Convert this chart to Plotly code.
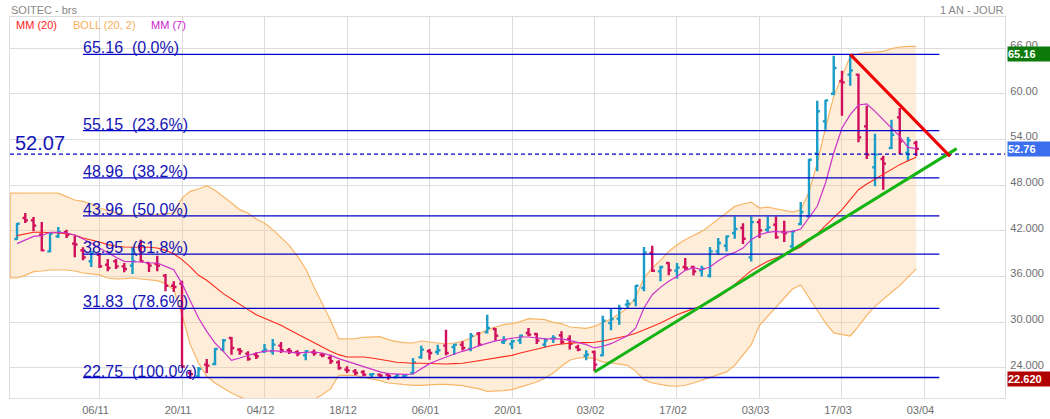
import plotly.graph_objects as go

# daily bars, index = trading day
open_ = [40.93, 43.69, 43.38, 41.5, 39.31, 41.28, 41.81, 40.32, 39.44, 38.0,
         38.87, 37.56, 38.0, 37.34, 37.43, 39.97, 37.78, 37.65, 36.12, 34.8,
         35.07, 23.34, 22.9, 24.44, 24.53, 26.41, 27.94, 26.41, 25.88, 25.75,
         26.19, 26.19, 26.93, 26.32, 26.06, 25.66, 26.06, 25.75, 25.31, 24.74,
         23.78, 23.56, 23.48, 23.13, 23.13, 23.13, 22.78, 22.91, 23.34, 25.4,
         26.19, 26.1, 26.93, 26.76, 27.06, 26.5, 28.51, 28.68, 29.12, 27.37,
         27.15, 27.63, 28.6, 28.46, 27.06, 27.85, 28.29, 27.81, 26.72, 25.62,
         26.1, 25.66, 29.91, 30.48, 32.31, 32.88, 34.5, 39.09, 36.68, 37.78,
         36.78, 37.25, 37.25, 36.81, 36.11, 39.3, 40.05, 41.71, 42.37, 38.52,
         43.15, 42.15, 42.8, 41.84, 39.96, 42.89, 43.9, 52.13, 56.37, 60.0,
         61.62, 62.5, 62.5, 55.72, 50.34, 51.43, 52.87, 56.9, 52.22, 53.53]
high = [43.03, 44.34, 43.82, 43.16, 41.81, 42.5, 42.16, 41.37, 39.84, 39.31,
        39.09, 38.3, 38.3, 37.78, 39.88, 40.84, 37.87, 38.74, 36.34, 35.37,
        35.46, 23.78, 24.13, 25.18, 26.63, 27.81, 28.07, 26.63, 26.19, 26.06,
        27.15, 27.81, 27.41, 26.63, 26.32, 26.32, 26.41, 25.97, 25.75, 25.0,
        24.22, 23.87, 23.69, 23.34, 23.26, 23.34, 23.2, 23.2, 25.31, 26.93,
        26.5, 27.06, 29.03, 27.19, 27.5, 28.6, 28.73, 31.0, 29.25, 28.16,
        27.72, 28.38, 29.25, 28.6, 27.94, 28.29, 28.81, 28.29, 27.06, 26.32,
        26.28, 30.87, 31.74, 32.31, 32.97, 34.89, 39.88, 40.06, 37.42, 37.87,
        37.78, 38.43, 37.42, 37.42, 39.87, 41.05, 41.4, 43.9, 43.0, 43.9,
        43.59, 43.9, 43.9, 43.33, 42.06, 45.78, 51.47, 59.09, 59.2, 64.99,
        63.02, 65.12, 62.63, 58.43, 54.76, 51.87, 56.59, 58.12, 54.32, 53.84]
low = [40.84, 43.03, 41.94, 39.31, 39.18, 41.06, 41.06, 38.52, 38.13, 37.26,
       37.13, 36.69, 36.99, 36.56, 36.34, 37.87, 36.6, 36.69, 34.06, 33.97,
       24.0, 22.56, 22.69, 23.34, 24.35, 26.19, 25.75, 25.75, 24.96, 25.18,
       25.97, 25.75, 25.97, 25.84, 25.53, 25.0, 25.62, 25.4, 24.53, 23.78,
       23.34, 23.04, 22.91, 22.69, 22.78, 22.47, 22.69, 22.78, 23.13, 25.22,
       25.09, 25.75, 25.66, 25.71, 26.28, 26.19, 26.85, 28.51, 27.59, 27.15,
       26.5, 27.15, 28.16, 27.15, 26.72, 27.28, 27.11, 26.41, 26.19, 25.0,
       23.56, 25.53, 28.94, 29.69, 31.74, 32.09, 34.06, 36.6, 35.37, 36.16,
       35.72, 36.81, 36.15, 36.02, 35.89, 38.87, 39.3, 40.97, 40.27, 37.99,
       41.05, 41.84, 40.97, 40.53, 39.39, 42.72, 43.77, 49.81, 55.28, 59.79,
       57.12, 61.05, 53.62, 51.43, 47.84, 47.41, 52.74, 52.09, 51.12, 51.78]
close = [42.94, 43.38, 42.68, 39.44, 41.63, 41.81, 41.46, 40.2, 38.52, 39.18,
         37.34, 37.13, 37.34, 36.99, 38.0, 38.0, 37.43, 37.43, 34.8, 34.63,
         24.2, 23.2, 23.87, 24.31, 26.5, 27.63, 26.63, 26.19, 25.18, 25.53,
         26.41, 27.06, 26.32, 26.19, 25.88, 26.19, 25.97, 25.66, 24.88, 24.0,
         23.69, 23.34, 23.13, 23.2, 23.0, 22.91, 23.04, 23.04, 24.74, 26.41,
         25.97, 26.32, 25.97, 27.06, 26.63, 28.24, 27.06, 29.25, 28.24, 27.63,
         27.5, 28.24, 28.38, 27.59, 27.63, 27.94, 27.41, 27.19, 26.41, 25.75,
         24.44, 30.2, 30.43, 31.79, 32.44, 34.8, 39.18, 36.77, 37.25, 36.82,
         37.17, 37.12, 36.68, 37.03, 39.3, 40.4, 41.27, 42.24, 40.97, 43.15,
         42.06, 42.45, 41.14, 41.71, 41.93, 44.47, 51.34, 57.69, 59.13, 63.37,
         61.49, 63.07, 54.27, 52.0, 52.0, 50.82, 54.62, 53.75, 53.88, 52.76]

mm20 = [41.37, 41.59, 41.81, 41.81, 41.81, 41.72, 41.63, 41.46, 41.06, 40.84,
        40.54, 40.19, 39.97, 39.88, 39.88, 39.88, 39.84, 39.75, 39.44, 39.0,
        38.22, 37.26, 36.16, 35.51, 34.63, 33.76, 33.06, 32.31, 31.66, 31.0,
        30.56, 30.13, 29.6, 29.03, 28.46, 27.85, 27.28, 26.76, 26.19, 25.75,
        25.45, 25.45, 25.45, 25.31, 25.09, 24.96, 24.75, 24.66, 24.62, 24.62,
        24.57, 24.53, 24.53, 24.57, 24.62, 24.79, 24.96, 25.09, 25.23, 25.45,
        25.66, 25.97, 26.23, 26.5, 26.76, 26.98, 27.15, 27.28, 27.33, 27.33,
        27.37, 27.55, 27.76, 27.98, 28.24, 28.55, 28.94, 29.43, 29.91, 30.43,
        31.0, 31.4, 31.79, 32.18, 32.75, 33.32, 34.06, 34.94, 35.9, 36.78,
        37.43, 38.0, 38.44, 38.87, 39.4, 39.88, 40.71, 41.59, 42.68, 43.69,
        44.78, 46.09, 47.4, 48.15, 48.81, 49.37, 50.12, 50.69, 51.21, 51.65]
mm7 = [40.32, 40.76, 41.28, 41.37, 41.81, 41.81, 41.72, 41.46, 40.93, 40.41,
       39.75, 39.09, 38.53, 38.0, 38.0, 37.91, 37.78, 37.78, 37.34, 36.91,
       35.07, 32.75, 30.56, 28.81, 27.28, 26.19, 25.01, 25.31, 25.66, 25.97,
       26.19, 26.28, 26.19, 26.06, 25.97, 26.06, 26.1, 25.97, 25.66, 25.23,
       24.88, 24.57, 24.22, 23.87, 23.48, 23.26, 23.17, 23.17, 23.21, 23.87,
       24.57, 25.01, 25.45, 25.84, 26.19, 26.5, 26.93, 27.28, 27.55, 27.72,
       27.94, 28.07, 28.07, 27.94, 27.81, 27.81, 27.81, 27.63, 27.37, 27.06,
       26.63, 26.85, 27.19, 27.72, 28.24, 29.25, 31.87, 33.62, 34.58, 35.37,
       36.02, 36.81, 37.16, 36.9, 37.25, 38.08, 38.74, 39.17, 39.74, 40.84,
       41.49, 41.8, 41.93, 41.8, 41.93, 42.24, 43.68, 45.22, 48.28, 52.22,
       55.5, 57.25, 58.52, 58.65, 57.69, 56.59, 55.5, 54.4, 52.96, 52.79]

# bollinger bands, these start one day earlier than the bars
boll_up = [46.95, 46.97, 46.97, 46.97, 46.97, 46.97, 46.95, 46.53, 46.05, 45.87,
           45.56, 45.0, 44.69, 44.34, 44.07, 44.03, 44.03, 44.12, 44.12, 44.25,
           44.34, 46.3, 47.18, 47.49, 47.93, 47.32, 46.53, 45.66, 44.78, 44.34,
           43.56, 43.03, 42.16, 41.19, 40.1, 38.66, 36.99, 34.63, 32.53, 30.26,
           27.81, 27.81, 27.85, 28.03, 28.07, 28.11, 27.72, 27.46, 27.33, 27.28,
           27.54, 27.41, 27.37, 27.15, 27.28, 27.5, 27.94, 28.51, 29.03, 29.38,
           29.69, 29.82, 30.08, 30.48, 30.43, 30.34, 29.99, 29.82, 29.38, 29.25,
           29.21, 29.47, 29.91, 30.43, 31.13, 31.87, 33.31, 35.8, 37.12, 38.12,
           39.3, 40.18, 40.84, 41.36, 41.93, 42.72, 43.55, 44.34, 45.21, 45.52,
           45.78, 44.99, 45.12, 44.9, 44.7, 44.47, 44.77, 47.1, 50.9, 55.5,
           59.65, 62.37, 64.9, 65.25, 65.43, 65.47, 65.56, 65.91, 66.13, 66.22,
           66.22]
boll_down = [35.81, 35.81, 36.16, 36.64, 36.73, 36.86, 36.86, 36.86, 36.73, 36.47,
             36.34, 36.21, 35.81, 35.68, 35.73, 35.81, 35.68, 35.59, 35.46, 35.07,
             34.28, 31.0, 27.06, 24.66, 22.91, 22.03, 21.38, 20.72, 20.2, 19.76,
             19.41, 18.97, 18.9, 18.9, 18.97, 19.19, 19.5, 19.85, 20.5, 21.25,
             23.04, 23.04, 23.04, 22.78, 22.6, 22.34, 22.03, 21.9, 21.77, 21.73,
             21.73, 21.81, 21.86, 21.86, 21.77, 21.68, 21.46, 21.25, 20.94, 20.94,
             21.03, 21.16, 21.46, 21.81, 22.16, 22.69, 23.35, 24.22, 25.01, 25.31,
             25.4, 25.22, 24.79, 24.66, 24.53, 24.35, 23.56, 22.47, 22.03, 21.81,
             21.64, 21.6, 21.73, 22.03, 22.38, 22.78, 23.08, 23.48, 24.35, 25.66,
             27.06, 29.6, 30.78, 32.0, 33.1, 34.37, 34.89, 33.19, 31.44, 29.91,
             28.6, 28.38, 28.2, 29.47, 30.91, 32.09, 33.06, 33.93, 34.81, 35.9,
             37.0]

fib_values = [65.16, 55.15, 48.96, 43.96, 38.95, 31.83, 22.75]
fib_labels = ["65.16\u00a0\u00a0(0.0%)", "55.15\u00a0\u00a0(23.6%)", "48.96\u00a0\u00a0(38.2%)",
              "43.96\u00a0\u00a0(50.0%)", "38.95\u00a0\u00a0(61.8%)", "31.83\u00a0\u00a0(78.6%)",
              "22.75\u00a0\u00a0(100.0%)"]
fib_x = [8.0, 111.8]

level_value = 52.07
red_trend_x = [101, 113.1]
red_trend_y = [65.16, 51.77]
green_trend_x = [70, 113.9]
green_trend_y = [23.48, 52.79]

date_ticks = [10, 20, 30, 40, 50, 60, 70, 80, 90, 100, 110]
date_labels = ["06/11", "20/11", "04/12", "18/12", "06/01", "20/01", "03/02", "17/02", "03/03", "17/03", "03/04"]
price_ticks = [66, 60, 54, 48, 42, 36, 30, 24]
price_labels = ["66.00", "60.00", "54.00", "48.000", "42.000", "36.000", "30.000", "24.000"]

x_range = [-0.85, 119.76]
y_range = [20.06, 70.07]
band_x = list(range(-1, 110))
days = list(range(110))

ORANGE = "#f9b566"
BLUE = "#0000c8"
GREY = "#6e6e6e"

fig = go.Figure()

# Bollinger band on the base axes, ohlc layer would otherwise end up under its fill
fig.add_trace(go.Scatter(x=band_x, y=boll_up, mode="lines", line=dict(color=ORANGE, width=1.2), hoverinfo="skip"))
fig.add_trace(go.Scatter(x=band_x, y=boll_down, mode="lines", line=dict(color=ORANGE, width=1.2),
                         fill="tonexty", fillcolor="rgba(248,198,138,0.32)", hoverinfo="skip"))
fig.add_trace(go.Scatter(x=[x_range[0], x_range[0]], y=[boll_down[0], boll_up[0]], mode="lines",
                         line=dict(color=ORANGE, width=1.5), hoverinfo="skip"))

# everything else on overlay axes
fig.add_trace(go.Ohlc(x=days, open=open_, high=high, low=low, close=close, tickwidth=0.33,
                      xaxis="x2", yaxis="y2", hoverinfo="skip",
                      increasing=dict(line=dict(color="#1a9cc8", width=2.4)),
                      decreasing=dict(line=dict(color="#d0105c", width=2.4))))

fig.add_trace(go.Scatter(x=days, y=mm20, mode="lines", line=dict(color="#ff2a1a", width=1.1),
                         xaxis="x2", yaxis="y2", hoverinfo="skip"))
fig.add_trace(go.Scatter(x=days, y=mm7, mode="lines", line=dict(color="#cc33cc", width=1.2),
                         xaxis="x2", yaxis="y2", hoverinfo="skip"))

# Fibonacci levels
for v, label in zip(fib_values, fib_labels):
    fig.add_trace(go.Scatter(x=fib_x, y=[v, v], mode="lines", line=dict(color=BLUE, width=1.3),
                             xaxis="x2", yaxis="y2", hoverinfo="skip"))
    fig.add_annotation(x=fib_x[0], y=v, xref="x", yref="y", text=label, showarrow=False,
                       xanchor="left", yanchor="bottom", yshift=-2, borderpad=0, borderwidth=0,
                       font=dict(family="Liberation Sans", size=16, color="#1414b4"))

fig.add_trace(go.Scatter(x=x_range, y=[level_value, level_value], mode="lines",
                         line=dict(color=BLUE, width=1.2, dash="4px,3px"),
                         xaxis="x2", yaxis="y2", hoverinfo="skip"))
fig.add_annotation(x=0.004, y=level_value, xref="paper", yref="y", text=str(level_value), showarrow=False,
                   xanchor="left", yanchor="bottom", yshift=-1, borderpad=0,
                   font=dict(family="Liberation Sans", size=20, color="#1414b4"))

# trend lines
fig.add_trace(go.Scatter(x=green_trend_x, y=green_trend_y, mode="lines", line=dict(color="#14b414", width=3),
                         xaxis="x2", yaxis="y2", hoverinfo="skip"))
fig.add_trace(go.Scatter(x=red_trend_x, y=red_trend_y, mode="lines", line=dict(color="#f00000", width=3),
                         xaxis="x2", yaxis="y2", hoverinfo="skip"))

# legend row and titles
legend_items = [("MM (20)", "#ff1a1a", 15), ("BOLL (20, 2)", "#f9b05a", 72), ("MM (7)", "#cc22cc", 150)]
for text, colour, px in legend_items:
    fig.add_annotation(x=(px - 10) / 995, y=1, xref="paper", yref="paper", text=text, showarrow=False,
                       xanchor="left", yanchor="top", yshift=-1, borderpad=0,
                       font=dict(family="Liberation Sans", size=11, color=colour))
fig.add_annotation(x=0, y=1, xref="paper", yref="paper", text="SOITEC - brs", showarrow=False,
                   xanchor="left", yanchor="bottom", yshift=0, borderpad=0,
                   font=dict(family="Liberation Sans", size=11, color="#888888"))
fig.add_annotation(x=1, y=1, xref="paper", yref="paper", text="1 AN - JOUR", showarrow=False,
                   xanchor="right", yanchor="bottom", yshift=0, borderpad=0,
                   font=dict(family="Liberation Sans", size=11, color="#888888"))

# price boxes on the right
price_boxes = [(65.16, "65.16", "#0b7a0b"), (52.76, "52.76", "#3b6fee"), (22.62, "22.620", "#b00000")]
for v, text, colour in price_boxes:
    fig.add_annotation(x=1, y=v, xref="paper", yref="y", text="<b>" + text + "</b>", showarrow=False, xanchor="left", xshift=2,
                       width=43, height=14, align="left", bgcolor=colour, borderpad=0,
                       font=dict(family="Liberation Sans", size=11, color="white"))

fig.update_layout(
    width=1050, height=419, margin=dict(l=10, r=45, t=17, b=21, autoexpand=False),
    plot_bgcolor="white", paper_bgcolor="white", showlegend=False,
    font=dict(family="Liberation Sans", size=11, color=GREY),
    xaxis=dict(range=x_range, tickmode="array", tickvals=date_ticks, ticktext=date_labels,
               showgrid=True, gridcolor="#dddddd", gridwidth=1.2, zeroline=False, ticks="", automargin=False,
               showline=True, linecolor="#dddddd", linewidth=1.2, mirror=True,
               ticklabelshift=-4, ticklabelstandoff=2),
    yaxis=dict(range=y_range, side="right", tickmode="array", tickvals=price_ticks, ticktext=price_labels,
               showgrid=True, gridcolor="#dddddd", gridwidth=1.2, zeroline=False, ticks="", automargin=False,
               showline=True, linecolor="#dddddd", linewidth=1.2, mirror=True,
               ticklabelstandoff=2, ticklabelshift=-3),
    xaxis2=dict(range=x_range, overlaying="x", visible=False, rangeslider=dict(visible=False)),
    yaxis2=dict(range=y_range, overlaying="y", visible=False),
)

# browser default page margin would push the plot off by 8px
fig.write_html("out.html", config=dict(displayModeBar=False), post_script="document.body.style.margin='0';")
